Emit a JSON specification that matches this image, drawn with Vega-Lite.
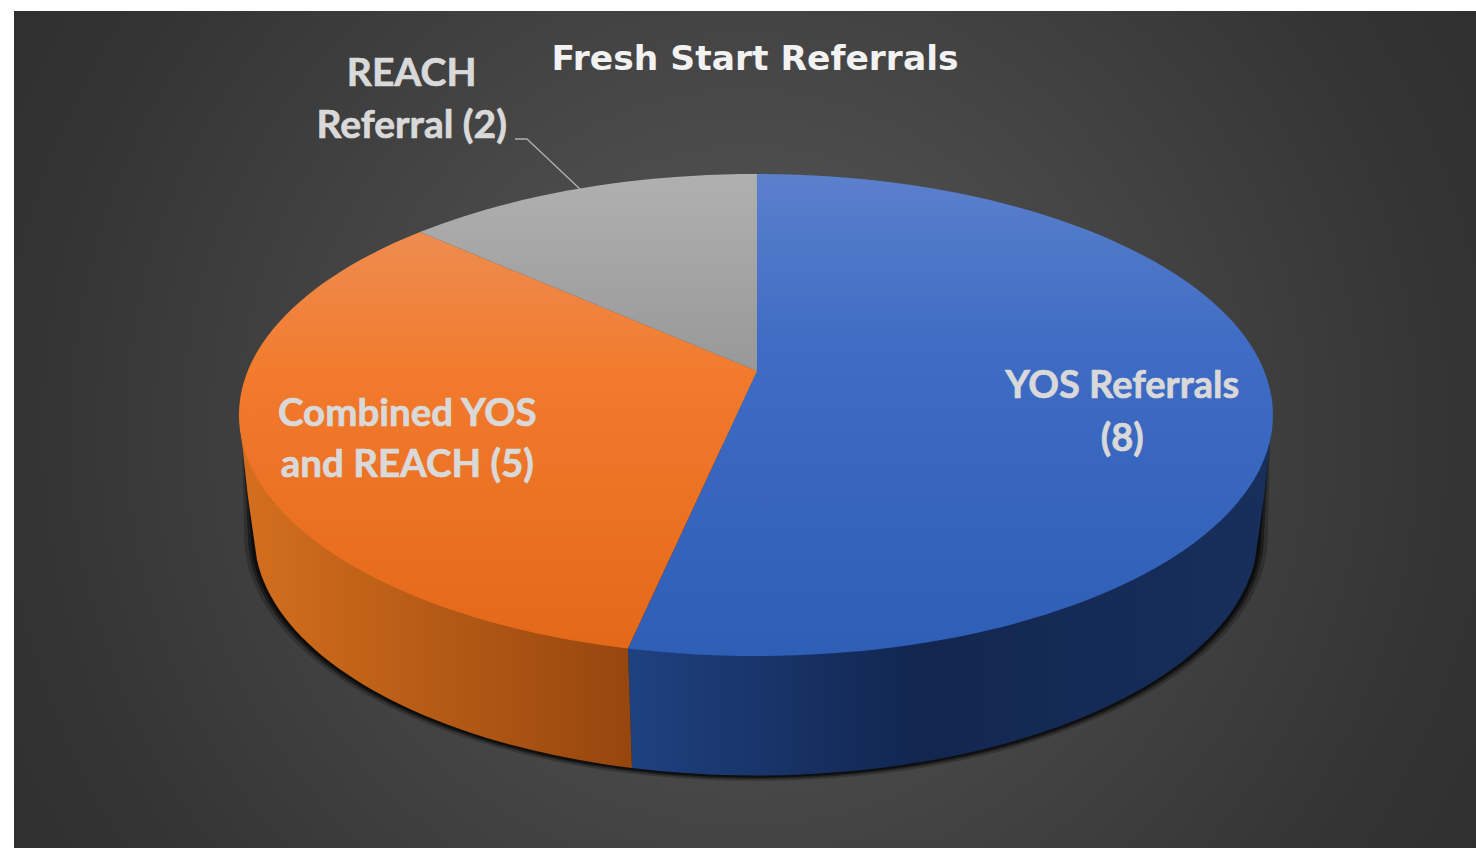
{"$schema":"https://vega.github.io/schema/vega-lite/v6.json","width":1462,"height":837,"padding":{"left":14,"top":11,"right":0,"bottom":0},"autosize":"none","background":"#ffffff","view":{"stroke":null,"fill":{"gradient":"radial","x1":0.5,"y1":0.5,"r1":0,"x2":0.5,"y2":0.5,"r2":0.69,"stops":[{"offset":0,"color":"#5a5a5a"},{"offset":0.7,"color":"#343434"},{"offset":1,"color":"#2a2a2a"}]}},"title":{"text":"Fresh Start Referrals","font":"DejaVu Sans","fontWeight":"bold","fontSize":34.5,"color":"#f2f2f2","anchor":"middle","frame":"group","offset":-66,"dx":10},"data":{"values":[{"category":"YOS Referrals","referrals":8,"label":["YOS Referrals","(8)"]},{"category":"Combined YOS and REACH","referrals":5,"label":["Combined YOS","and REACH (5)"]},{"category":"REACH Referral","referrals":2,"label":["REACH","Referral (2)"]}]},"encoding":{"x":{"datum":50.75,"type":"quantitative","scale":{"domain":[0,100]},"axis":null},"y":{"datum":48.27,"type":"quantitative","scale":{"domain":[100,0]},"axis":null}},"layer":[{"transform":[{"filter":"datum.referrals==8"}],"mark":{"type":"point","filled":true,"size":40000,"opacity":0.22,"fill":"#000000","stroke":null,"shape":"M-5.14,0.3L-5.12,1.2A5.12,2.46 0 0 0 5.12,1.2L5.14,0.3Z"}},{"transform":[{"filter":"datum.referrals==8"}],"mark":{"type":"point","filled":true,"size":40000,"opacity":0.4,"fill":"#000000","stroke":null,"shape":"M-5.13,0.3L-5.08,1.2A5.08,2.44 0 0 0 5.08,1.2L5.13,0.3Z"}},{"transform":[{"filter":"datum.referrals==8"}],"mark":{"type":"point","filled":true,"size":40000,"opacity":0.55,"fill":"#000000","stroke":null,"shape":"M-5.12,0.3L-5.05,1.2A5.05,2.425 0 0 0 5.05,1.2L5.12,0.3Z"}},{"transform":[{"filter":"datum.referrals==8"}],"mark":{"type":"point","filled":true,"size":40000,"opacity":1,"stroke":null,"shape":"M-1.28,2.335L-1.24,3.53A5.02,2.41 0 0 0 4.99,1.45L5.08,0.82L5.17,0Z","fill":{"gradient":"linear","x1":0,"y1":0,"x2":1,"y2":0,"stops":[{"offset":0,"color":"#1e4180"},{"offset":0.45,"color":"#122650"},{"offset":1,"color":"#182f5c"}]}}},{"transform":[{"filter":"datum.referrals==5"}],"mark":{"type":"point","filled":true,"size":40000,"opacity":1,"stroke":null,"shape":"M-1.28,2.335L-1.24,3.53A5.02,2.41 0 0 1 -4.99,1.45L-5.08,0.82L-5.17,0Z","fill":{"gradient":"linear","x1":0,"y1":0,"x2":1,"y2":0,"stops":[{"offset":0,"color":"#d56f1e"},{"offset":1,"color":"#96460e"}]}}},{"transform":[{"filter":"datum.referrals==8"}],"mark":{"type":"point","filled":true,"size":40000,"opacity":1,"stroke":null,"shape":"M0.01,-0.44L0.01,-2.41A5.17,2.41 0 0 1 5.17,0A5.17,2.41 0 0 1 -1.28,2.335Z","fill":{"gradient":"linear","x1":0,"y1":0,"x2":0,"y2":1,"stops":[{"offset":0,"color":"#5b80cc"},{"offset":0.35,"color":"#3f6cc4"},{"offset":1,"color":"#2f5eb6"}]}}},{"transform":[{"filter":"datum.referrals==5"}],"mark":{"type":"point","filled":true,"size":40000,"opacity":1,"stroke":null,"shape":"M0.01,-0.44L-1.28,2.335A5.17,2.41 0 0 1 -5.17,0A5.17,2.41 0 0 1 -3.36,-1.83Z","fill":{"gradient":"linear","x1":0,"y1":0,"x2":0,"y2":1,"stops":[{"offset":0,"color":"#ee8c50"},{"offset":0.35,"color":"#f27a2c"},{"offset":1,"color":"#e4681a"}]}}},{"transform":[{"filter":"datum.referrals==2"}],"mark":{"type":"point","filled":true,"size":40000,"opacity":1,"stroke":null,"shape":"M0.01,-0.44L-3.36,-1.83A5.17,2.41 0 0 1 0.01,-2.41Z","fill":{"gradient":"linear","x1":0,"y1":0,"x2":0,"y2":1,"stops":[{"offset":0,"color":"#b0b0b0"},{"offset":1,"color":"#989898"}]}}},{"transform":[{"filter":"datum.referrals==2"}],"mark":{"type":"point","filled":false,"size":40000,"opacity":1,"stroke":"#b0b0b0","strokeWidth":1.3,"fill":null,"shape":"M-2.41,-2.76L-2.29,-2.76L-1.76,-2.26"}},{"transform":[{"filter":"datum.referrals==8"}],"mark":{"type":"text","font":"Lato","fontWeight":"bold","fontSize":38,"color":"#d9d9d9","stroke":"#d9d9d9","strokeWidth":0.7,"lineHeight":53,"baseline":"middle"},"encoding":{"text":{"field":"label"},"x":{"datum":75.8,"type":"quantitative"},"y":{"datum":44.9,"type":"quantitative"}}},{"transform":[{"filter":"datum.referrals==5"}],"mark":{"type":"text","font":"Lato","fontWeight":"bold","fontSize":38.5,"color":"#d9d9d9","stroke":"#d9d9d9","strokeWidth":0.7,"lineHeight":51,"baseline":"middle"},"encoding":{"text":{"field":"label"},"x":{"datum":26.9,"type":"quantitative"},"y":{"datum":48.17,"type":"quantitative"}}},{"transform":[{"filter":"datum.referrals==2"}],"mark":{"type":"text","font":"Lato","fontWeight":"bold","fontSize":39,"color":"#d9d9d9","stroke":"#d9d9d9","strokeWidth":0.7,"lineHeight":52,"baseline":"middle"},"encoding":{"text":{"field":"label"},"x":{"datum":27.2,"type":"quantitative"},"y":{"datum":7.55,"type":"quantitative"}}}]}
